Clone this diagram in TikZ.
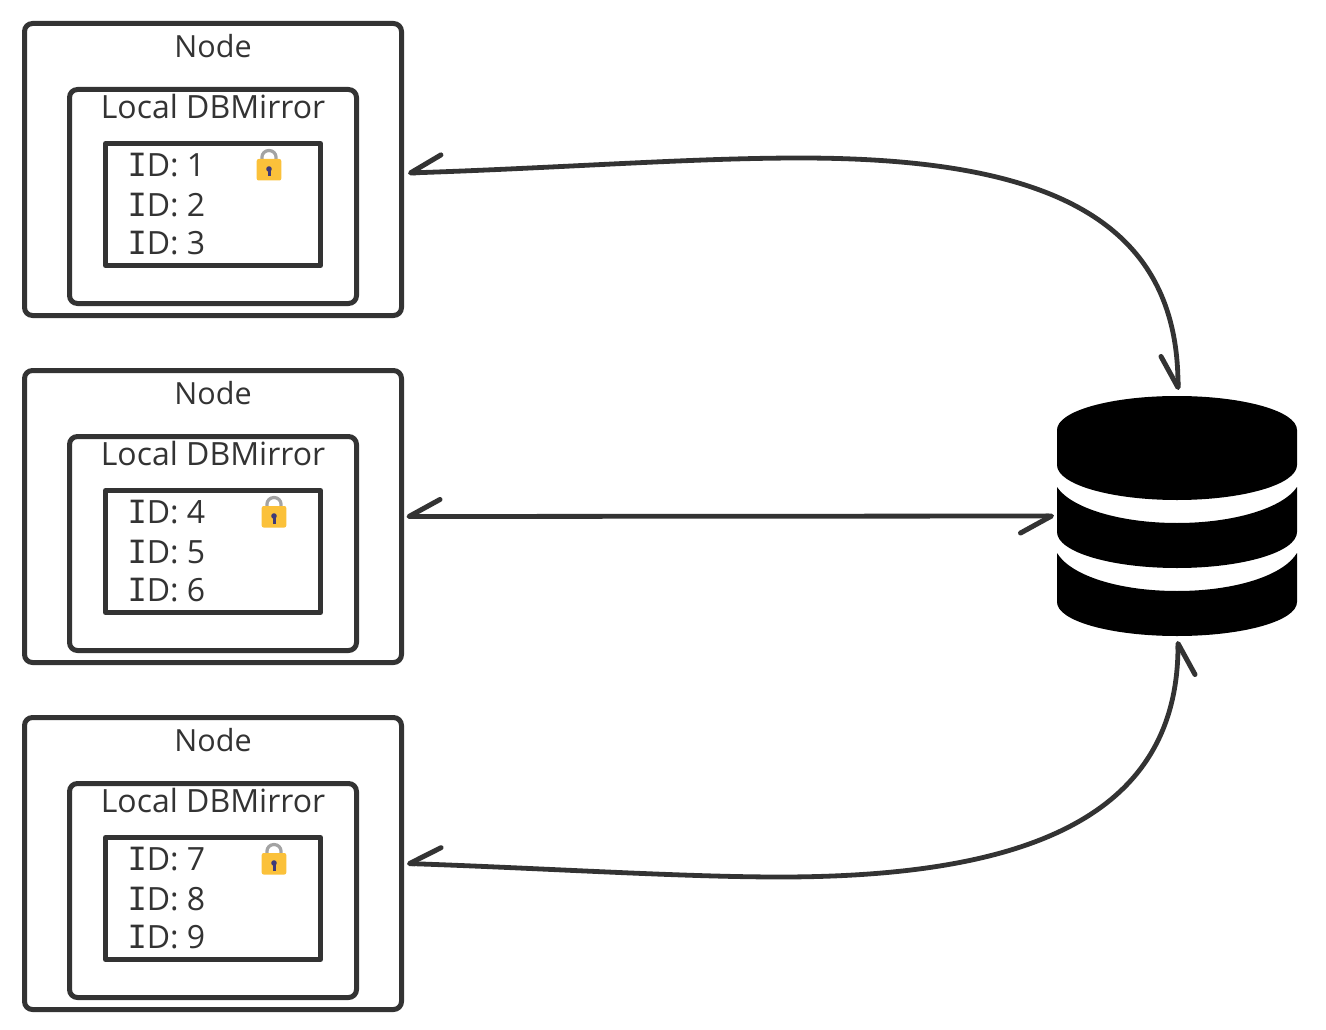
\documentclass[tikz,border=0pt]{standalone}
\usepackage{fontspec}
\setmainfont{Open Sans}
\newfontfamily\serifI{DejaVu Sans Mono}
\usetikzlibrary{arrows.meta,calc}
\definecolor{ink}{HTML}{333333}
\definecolor{lockgold}{HTML}{FBC13A}
\definecolor{lockgrey}{HTML}{A3A3A3}
\definecolor{locknavy}{HTML}{3F3A78}
\tikzset{
  x=1pt,y=-1pt,
  framebox/.style={draw=ink,line width=5pt,rounded corners=8pt,inner sep=0pt,outer sep=0pt,line join=round},
  listbox/.style={draw=ink,line width=5pt,inner sep=0pt,outer sep=0pt,line join=round},
  lbl/.style={text=ink,font=\fontsize{32}{32}\selectfont,inner sep=0pt,outer sep=0pt},
  titlelbl/.style={lbl,font=\fontsize{30.5}{32}\selectfont},
  barb/.tip={Straight Barb[harpoon,swap,length=31pt,width=34pt,line width=5pt,round=false]},
  link/.style={draw=ink,line width=4.8pt,barb-barb},
  lockbody/.style={fill=lockgold,rounded corners=2pt},
}
\newcommand{\idrow}[4]{\node[lbl,anchor=base west] (#1) at (127.5,#2) {{\serifI I}D: #3};}
\newcommand{\padlock}[3]{%
  \draw[lockgrey,line width=3.2pt] (#1-7,#2+12) -- (#1-7,#2+7.5) arc[start angle=180,end angle=360,x radius=7pt,y radius=-6.5pt] -- (#1+7,#2+12);
  \fill[lockbody] (#1-12.3,#2+9.5) rectangle (#1+12.3,#2+31);
  \fill[locknavy] (#1,#2+19.5) circle[radius=2.8pt];
  \fill[locknavy] (#1-1.5,#2+20) -- (#1+1.5,#2+20) -- (#1+1.5,#2+27) -- (#1-1.5,#2+27) -- cycle;
}
\begin{document}
\begin{tikzpicture}
\useasboundingbox (0,0) rectangle (1326,1030);
\fill[white] (0,0) rectangle (1326,1030);

\foreach \n/\dy/\lx/\a/\b/\c in {1/0/269/1/2/3,2/347/274/4/5/6,3/694/274/7/8/9}{
  \node[framebox,minimum width=377pt,minimum height=292pt] (n\n) at (213,169.5+\dy) {};
  \node[framebox,minimum width=287pt,minimum height=214pt] (m\n) at (213,196.5+\dy) {};
  \node[listbox,minimum width=215pt,minimum height=122pt] (l\n) at (213,204.5+\dy) {};
  \node[titlelbl,anchor=base] (tn\n) at (213,57.5+\dy) {Node};
  \node[lbl,anchor=base] (tm\n) at (213,118.5+\dy) {Local DBMirror};
  \idrow{ia\n}{176.5+\dy}{\a}{}
  \idrow{ib\n}{216+\dy}{\b}{}
  \idrow{ic\n}{254.5+\dy}{\c}{}
  \padlock{\lx}{149.5+\dy}{}
}

% database
\node[minimum width=240pt,minimum height=240pt,inner sep=0pt,outer sep=0pt] (db) at (1177,516) {};
\fill[black] (1057,430) .. controls (1057,411) and (1111,396) .. (1177,396)
  .. controls (1243,396) and (1297,411) .. (1297,430)
  -- (1297,465) .. controls (1297,484.5) and (1243,500) .. (1177,500)
  .. controls (1111,500) and (1057,484.5) .. (1057,465) -- cycle;
\fill[black] (1057,487) .. controls (1071,508) and (1120,523) .. (1177,523)
  .. controls (1234,523) and (1283,508) .. (1297,487)
  -- (1297,532) .. controls (1297,552) and (1243,568) .. (1177,568)
  .. controls (1111,568) and (1057,552) .. (1057,532) -- cycle;
\fill[black] (1057,553) .. controls (1071,576) and (1120,591) .. (1177,591)
  .. controls (1234,591) and (1283,576) .. (1297,553)
  -- (1297,602) .. controls (1297,621) and (1243,636) .. (1177,636)
  .. controls (1111,636) and (1057,621) .. (1057,602) -- cycle;

% connectors
\coordinate (a1) at ($(n1.east)+(6.5,3.5)$);
\coordinate (a3) at ($(n3.east)+(5.5,0)$);
\coordinate (dbn) at ($(db.north)+(1,-6)$);
\coordinate (dbs) at ($(db.south)+(1,5)$);
\path[link] (a1) .. controls (560,168) and (690,158) .. (800,158)
  .. controls (1040,158) and (1178,215) .. (dbn);
\path[link,shorten <=5pt,shorten >=3pt] (n2.east) -- (db.west);
\path[link] (a3) .. controls (540,868) and (680,877) .. (780,877)
  .. controls (1030,877) and (1178,815) .. (dbs);
\end{tikzpicture}
\end{document}
